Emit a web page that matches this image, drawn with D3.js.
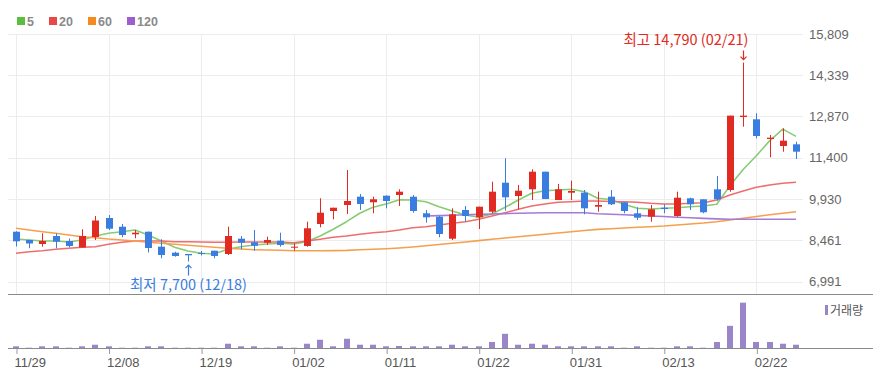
<!DOCTYPE html>
<html><head><meta charset="utf-8">
<script src="https://cdn.jsdelivr.net/npm/d3@7"></script>
<style>
html,body{margin:0;padding:0;background:#fff;}
svg{display:block;font-family:"Liberation Sans",Arial,sans-serif;}
</style></head>
<body><svg id="c" width="873" height="383"></svg>
<script>
const dates = ["11/29","11/30","12/01","12/04","12/05","12/06","12/07","12/08","12/11","12/12","12/13","12/14","12/15","12/18","12/19","12/20","12/21","12/22","12/26","12/27","12/28","01/02","01/03","01/04","01/05","01/08","01/09","01/10","01/11","01/12","01/15","01/16","01/17","01/18","01/19","01/22","01/23","01/24","01/25","01/26","01/29","01/30","01/31","02/01","02/02","02/05","02/06","02/07","02/08","02/13","02/14","02/15","02/16","02/19","02/20","02/21","02/22","02/23","02/26","02/27"];
const opens  = [8765,8470,8327,8612,8434,8202,8577,9253,8943,8673,8765,8231,8017,7971,8006,8088,7971,8516,8388,8373,8445,8195,8256,9040,9503,9717,10012,9813,10048,10073,10012,9421,9300,8516,9539,9278,9478,10511,10037,10276,10903,9895,10155,10155,9656,10012,9813,9421,9300,9620,9325,9955,9920,10276,10251,12850,12770,12068,11819,11879];
const highs  = [8780,8480,8708,8708,8523,8851,9325,9360,9040,8826,8770,8495,8053,7971,8078,8088,8943,8612,8826,8587,8730,8352,9122,9955,9620,10964,10109,10012,10060,10276,10073,9539,9325,9599,9681,9656,10547,11381,10429,10989,10903,10465,10583,10251,10191,10251,9813,9635,9717,9742,10191,9977,9920,10750,12900,14790,12984,12211,12450,11972];
const lows   = [8238,8174,8231,8174,8202,8202,8470,8826,8566,8530,8024,7818,7875,7700,7917,7818,7935,8138,8088,8291,8231,8088,8231,8922,9207,9396,9539,9421,9599,9681,9442,9086,8566,8470,9122,8862,9421,9514,9563,9895,9930,9895,9895,9385,9478,9717,9421,9182,9122,9421,9300,9539,9421,9870,10191,12506,12093,11416,11616,11356];
const closes = [8423,8345,8434,8409,8256,8612,9164,8872,8648,8730,8185,7935,7900,7925,7982,7900,8612,8373,8263,8470,8291,8231,8887,9442,9620,9859,9752,9920,9859,10191,9503,9278,8683,9385,9325,9656,10191,9991,10226,10903,9930,10276,10215,9599,9717,9742,9503,9264,9563,9574,9977,9742,9457,9920,12900,12900,12175,12115,12008,11616];
const volumes = [17,3,17,17,3,17,33,17,3,3,17,17,3,3,3,3,43,17,17,3,17,3,43,83,17,93,33,33,17,20,17,17,17,33,17,17,60,143,33,43,33,17,17,17,17,17,3,17,3,3,17,17,3,60,223,456,60,60,43,33];
const ma5   = [8505,8470,8434,8434,8398,8470,8612,8708,8765,8826,8648,8434,8210,8078,7996,7970,8138,8231,8291,8327,8352,8327,8409,8612,8851,9122,9421,9635,9752,9906,9895,9834,9656,9503,9360,9278,9396,9635,9895,10134,10226,10251,10276,10191,9955,9913,9742,9599,9574,9599,9621,9656,9681,9742,10399,10983,11470,12002,12419,12163];
const ma20  = [7996,8053,8088,8138,8174,8210,8231,8316,8388,8434,8434,8434,8409,8409,8398,8388,8388,8398,8398,8398,8398,8373,8434,8495,8566,8612,8673,8730,8765,8826,8908,8944,9004,9065,9122,9207,9325,9442,9563,9681,9752,9813,9834,9859,9859,9841,9834,9813,9777,9752,9752,9777,9799,9895,10073,10216,10347,10429,10490,10525];
const ma60  = [8887,8826,8765,8708,8648,8587,8552,8505,8470,8434,8388,8352,8316,8281,8245,8210,8174,8149,8124,8113,8103,8088,8088,8088,8092,8099,8120,8138,8160,8185,8220,8263,8309,8356,8398,8448,8495,8541,8584,8630,8673,8719,8762,8808,8847,8872,8897,8922,8944,8968,9004,9040,9075,9122,9182,9243,9307,9368,9425,9478];
const ma120 = [null,null,null,null,null,null,null,null,null,null,null,null,null,null,null,null,null,null,null,null,null,null,null,null,null,null,null,null,null,null,null,9325,9339,9353,9368,9382,9396,9410,9421,9432,9439,9442,9442,9439,9403,9385,9368,9346,9325,9307,9282,9261,9239,9221,9211,9211,9211,9211,9211,9211];
const xTickLabels = ["11/29","12/08","12/19","01/02","01/11","01/22","01/31","02/13","02/22"];
const yTickValues = [6991,8461,9930,11400,12870,14339,15809];
const maNames = ["5","20","60","120"];
const maColors = ["#86cc74","#ee6e6e","#f5a04e","#a57bd6"];
const legendColors = ["#5dbd3f","#e94848","#f68a1e","#9b5fd0"];
const UP = "#e02a22", DOWN = "#3a7de0", VOL = "#9a85c9";

(function draw() {
const svg = d3.select("#c");
const pL = 8, pR = 803, pT = 34, pB = 294;
const x = d3.scalePoint().domain(dates).range([16, 796]);
const y = d3.scaleLinear().domain([6991, 15809]).range([281.5, 34]);
const yv = d3.scaleLinear().domain([0, d3.max(volumes)]).range([348, 302.7]);

const g = svg.append("g");
g.selectAll(".hg").data(yTickValues).join("line")
  .attr("x1", pL).attr("x2", pR)
  .attr("y1", d => Math.round(y(d)) + 0.5).attr("y2", d => Math.round(y(d)) + 0.5)
  .attr("stroke", "#ececec");
g.selectAll(".vg").data(xTickLabels).join("line")
  .attr("x1", d => Math.round(x(d)) + 0.5).attr("x2", d => Math.round(x(d)) + 0.5)
  .attr("y1", pT).attr("y2", pB)
  .attr("stroke", "#ececec");

svg.append("line").attr("x1", pL).attr("x2", 873).attr("y1", 294.5).attr("y2", 294.5).attr("stroke", "#8a8a8a");
svg.append("line").attr("x1", pL).attr("x2", 873).attr("y1", 348.5).attr("y2", 348.5).attr("stroke", "#8a8a8a");

const yAxis = d3.axisRight(y).tickValues(yTickValues).tickFormat(d3.format(",")).tickSize(0).tickPadding(0);
const ya = svg.append("g").attr("transform", "translate(809,0)").call(yAxis);
ya.select(".domain").remove();
ya.selectAll("text").attr("fill", "#666").style("font-size", "13px").style("font-family", "'Liberation Sans',Arial,sans-serif");

const mas = [ma5, ma20, ma60, ma120];
mas.forEach((arr, k) => {
  const line = d3.line().defined(d => d != null).x((d, i) => x(dates[i])).y(d => y(d));
  svg.append("path").datum(arr).attr("d", line).attr("fill", "none")
    .attr("stroke", maColors[k]).attr("stroke-width", 1.6).attr("stroke-linejoin", "round");
});

const cg = svg.append("g");
dates.forEach((d, i) => {
  const up = closes[i] >= opens[i];
  const col = up ? UP : DOWN;
  const cx = Math.round(x(d)) + 0.5;
  cg.append("line").attr("x1", cx).attr("x2", cx).attr("y1", y(highs[i])).attr("y2", y(lows[i])).attr("stroke", col).attr("stroke-width", 1);
  const y0 = y(Math.max(opens[i], closes[i])), y1 = y(Math.min(opens[i], closes[i]));
  cg.append("rect").attr("x", cx - 3.5).attr("width", 7)
    .attr("y", y0).attr("height", Math.max(1, y1 - y0)).attr("fill", col);
});

svg.append("g").selectAll("rect").data(volumes).join("rect")
  .attr("x", (v, i) => Math.round(x(dates[i])) - 3).attr("width", 6)
  .attr("y", v => yv(v)).attr("height", v => 348 - yv(v)).attr("fill", VOL);

const xAxis = d3.axisBottom(x).tickValues(xTickLabels).tickSize(5).tickPadding(4);
const xa = svg.append("g").attr("transform", "translate(0,349)").call(xAxis);
xa.select(".domain").remove();
xa.selectAll("line").attr("stroke", "#999").attr("transform", "translate(0.5,0)");
xa.selectAll("text").attr("fill", "#555").attr("text-anchor", "start").attr("dx", "-2")
  .style("font-size", "13px").style("font-family", "'Liberation Sans',Arial,sans-serif");

const lg = svg.append("g");
const legOffsets = [17, 49, 88, 127];
maNames.forEach((n, k) => {
  lg.append("rect").attr("x", legOffsets[k]).attr("y", 17).attr("width", 8).attr("height", 8).attr("fill", legendColors[k]);
  lg.append("text").attr("x", legOffsets[k] + 10).attr("y", 25.5).text(n)
    .attr("fill", "#8a8a8a").style("font-size", "12.5px").style("font-weight", "bold");
});

svg.append("rect").attr("x", 825).attr("y", 305).attr("width", 3).attr("height", 10).attr("fill", VOL);
svg.append("text").attr("x", 830).attr("y", 315).text("거래량").attr("fill", "#555")
  .style("font-size", "12px").style("font-family", "'Noto Sans CJK KR',sans-serif");

const fmt = d3.format(",");
const hi = d3.maxIndex(highs), lo = d3.minIndex(lows);
const hx = Math.round(x(dates[hi])) + 0.5, lxp = Math.round(x(dates[lo])) + 0.5;
const hy = y(highs[hi]);
svg.append("text").attr("x", hx + 5).attr("y", 45).attr("text-anchor", "end")
  .text(`최고 ${fmt(highs[hi])} (${dates[hi]})`).attr("fill", UP)
  .style("font-size", "14.5px").style("font-family", "'Noto Sans CJK KR',sans-serif");
svg.append("path").attr("d", `M${hx},${hy - 12}L${hx},${hy - 3}M${hx - 3},${hy - 6}L${hx},${hy - 3}L${hx + 3},${hy - 6}`)
  .attr("stroke", UP).attr("fill", "none").attr("stroke-width", 1.2);
const ly = y(lows[lo]);
svg.append("path").attr("d", `M${lxp},${ly + 14}L${lxp},${ly + 3.5}M${lxp - 3},${ly + 6.5}L${lxp},${ly + 3.5}L${lxp + 3},${ly + 6.5}`)
  .attr("stroke", DOWN).attr("fill", "none").attr("stroke-width", 1.2);
svg.append("text").attr("x", lxp).attr("y", ly + 28.5).attr("text-anchor", "middle")
  .text(`최저 ${fmt(lows[lo])} (${dates[lo]})`).attr("fill", DOWN)
  .style("font-size", "14.5px").style("font-family", "'Noto Sans CJK KR',sans-serif");
})();
</script></body></html>
